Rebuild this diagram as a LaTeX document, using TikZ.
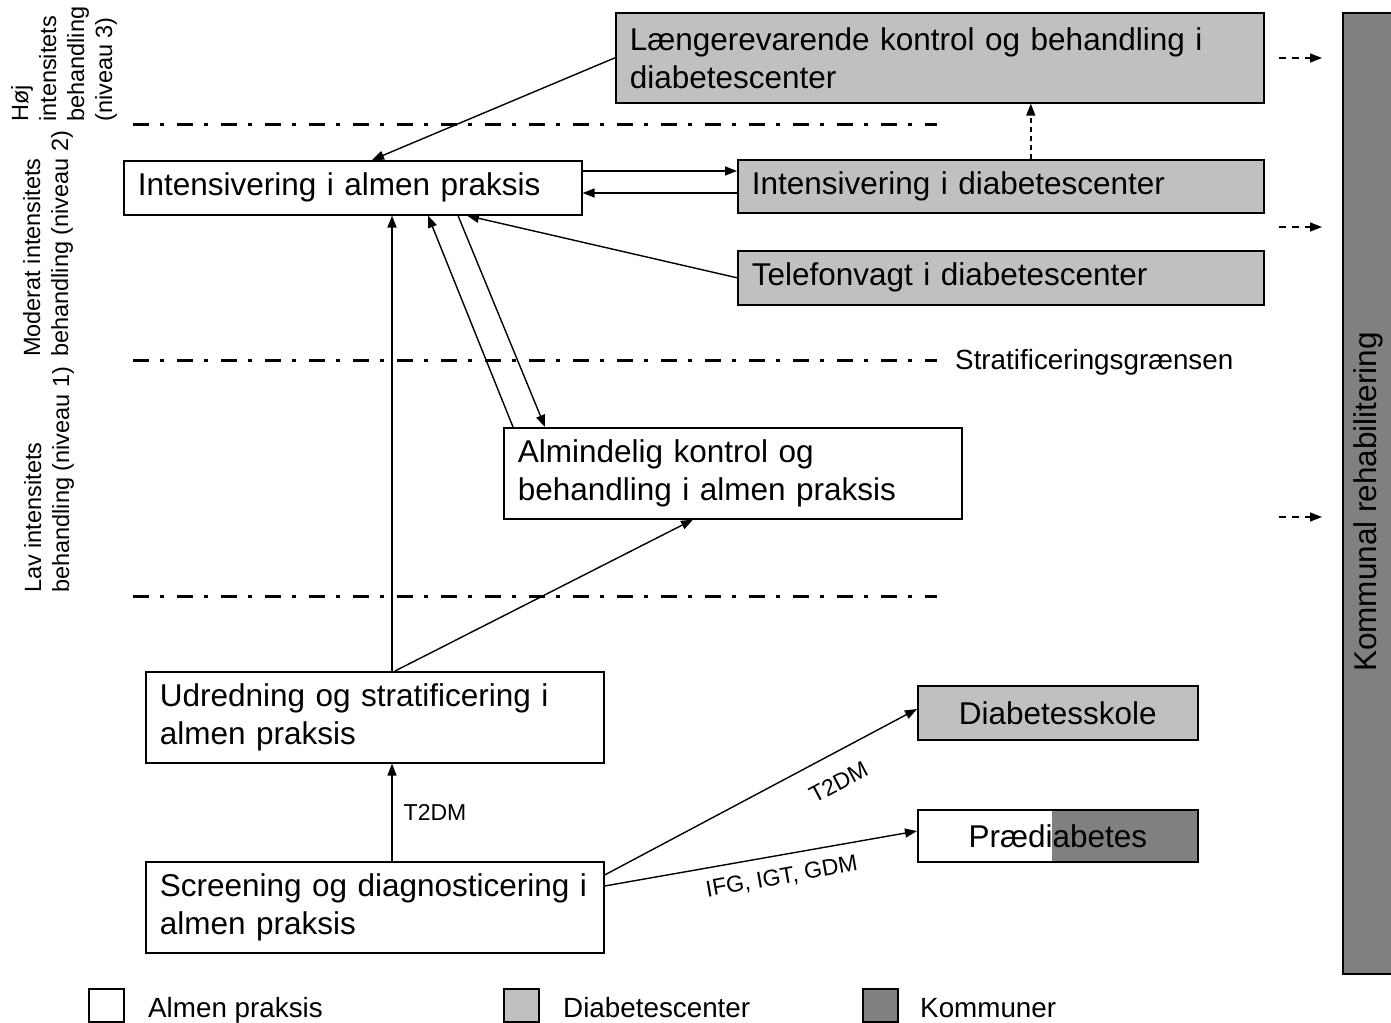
\documentclass[tikz,border=0pt]{standalone}
\usepackage{fontspec}
\setmainfont{Liberation Sans}
\usetikzlibrary{arrows.meta,calc}
\definecolor{centergray}{HTML}{C0C0C0}
\definecolor{kommunegray}{HTML}{808080}

\begin{document}
\begin{tikzpicture}[x=1pt,y=-1pt,
  box/.style={draw=black, line width=1.6pt, anchor=north west, inner xsep=14pt,
    inner ysep=0pt, align=left, font=\fontsize{31.5}{38}\selectfont},
  centerbox/.style={box, fill=centergray},
  flow/.style={line width=1.4pt, -{Triangle[length=12pt,width=9pt]}},
  dashflow/.style={flow, dash pattern=on 7pt off 6pt},
  level/.style={line width=3pt, dash pattern=on 16pt off 11pt on 4pt off 13pt},
  smalltext/.style={font=\fontsize{27.8}{33}\selectfont},
  sidetext/.style={rotate=90, anchor=west, align=left, inner sep=0pt,
    font=\fontsize{23.5}{28}\selectfont},
  edgetext/.style={inner sep=2pt, font=\fontsize{23}{27}\selectfont},
  legendbox/.style={draw=black, line width=1.6pt, anchor=north west, inner sep=0pt,
    minimum width=35pt, minimum height=33pt}
]
\useasboundingbox (0,0) rectangle (1391,1022);

% level separators
\draw[level] (133,125) -- (937,125);
\draw[level] (133,360) -- (937,360);
\draw[level] (133,596) -- (937,596);

% level titles
\node[sidetext] (lvl3) at (64,122) {Høj\\intensitets\\behandling\\(niveau 3)};
\node[sidetext] (lvl2) at (48,357) {Moderat intensitets\\behandling (niveau 2)};
\node[sidetext] (lvl1) at (49,593) {Lav intensitets\\behandling (niveau 1)};
\node[smalltext, anchor=west, inner sep=0pt] (strat) at (955,362) {Stratificeringsgrænsen};

% municipal rehabilitation column
\node[draw=black, fill=kommunegray, line width=1.6pt, anchor=north west, inner sep=0pt,
  minimum width=60pt, minimum height=961pt] (kr) at (1342,12) {};
\node[rotate=90, inner sep=0pt, font=\fontsize{31.5}{38}\selectfont] (krlabel) at (1368,502)
  {Kommunal rehabilitering};

% care boxes
\node[centerbox, text width=620pt, minimum height=90pt] (lk) at (615,12)
  {Længerevarende kontrol og behandling i\\diabetescenter};
\node[box, text width=430pt, minimum height=54pt] (ia) at (123,160)
  {Intensivering i almen praksis};
\node[centerbox, text width=498pt, minimum height=53pt] (id) at (737,159)
  {Intensivering i diabetescenter};
\node[centerbox, text width=498pt, minimum height=54pt] (tv) at (737,250)
  {Telefonvagt i diabetescenter};
\node[box, text width=430pt, minimum height=91pt] (ak) at (503,427)
  {Almindelig kontrol og\\behandling i almen praksis};
\node[box, text width=430pt, minimum height=91pt] (us) at (145,671)
  {Udredning og stratificering i\\almen praksis};
\node[box, text width=430pt, minimum height=91pt] (sd) at (145,861)
  {Screening og diagnosticering i\\almen praksis};
\node[centerbox, align=center, text width=252pt, minimum height=54pt] (ds) at (917,685)
  {Diabetesskole};
\node[box, align=center, text width=252pt, minimum height=52pt,
  path picture={\fill[kommunegray] ($(path picture bounding box.south west)+(134,0)$)
    rectangle (path picture bounding box.north east);}] (pd) at (917,809)
  {Prædiabetes};

% connections
\draw[flow] (lk.west) -- ($(ia.north west)+(249,0)$);
\draw[flow] ($(ia.north east)+(0,11)$) -- ($(id.north west)+(0,12)$);
\draw[flow] ($(id.north west)+(0,34)$) -- ($(ia.north east)+(0,33)$);
\draw[flow, dash pattern=on 5pt off 4pt] ($(id.north)+(30,0)$) -- ($(lk.south)+(91,0)$);
\draw[flow] (tv.west) -- ($(ia.south west)+(344,0)$);
\draw[flow] ($(ak.north west)+(10,0)$) -- ($(ia.south west)+(305,0)$);
\draw[flow] ($(ia.south west)+(335,0)$) -- ($(ak.north west)+(42,0)$);
\draw[flow] ($(us.north west)+(247,0)$) -- ($(ia.south west)+(269,0)$);
\draw[flow] ($(us.north west)+(250,0)$) -- ($(ak.south west)+(190,0)$);
\draw[flow] ($(sd.north west)+(247,0)$) -- ($(us.south west)+(247,0)$)
  node[edgetext, midway, right=9pt] {T2DM};
\draw[flow] ($(sd.north east)+(0,14)$) -- ($(ds.north west)+(0,24)$)
  node[edgetext, pos=0.707, sloped, below=17pt] {T2DM};
\draw[flow] ($(sd.north east)+(0,25)$) -- ($(pd.north west)+(0,22)$)
  node[edgetext, pos=0.555, sloped, below=10pt] {IFG, IGT, GDM};

% referrals to municipal rehabilitation
\coordinate (r3s) at (1279,58);  \coordinate (r3e) at (1322,58);
\coordinate (r2s) at (1279,227); \coordinate (r2e) at (1322,227);
\coordinate (r1s) at (1279,517); \coordinate (r1e) at (1322,517);
\draw[dashflow] (r3s) -- (r3e);
\draw[dashflow] (r2s) -- (r2e);
\draw[dashflow] (r1s) -- (r1e);

% legend
\node[legendbox, fill=white] (lgap) at (88,988) {};
\node[smalltext, anchor=base west, inner sep=0pt] (lgaptext) at (148,1017) {Almen praksis};
\node[legendbox, fill=centergray] (lgdc) at (503,988) {};
\node[smalltext, anchor=base west, inner sep=0pt] (lgdctext) at (563,1017) {Diabetescenter};
\node[legendbox, fill=kommunegray] (lgko) at (862,988) {};
\node[smalltext, anchor=base west, inner sep=0pt] (lgkotext) at (920,1017) {Kommuner};
\end{tikzpicture}
\end{document}
